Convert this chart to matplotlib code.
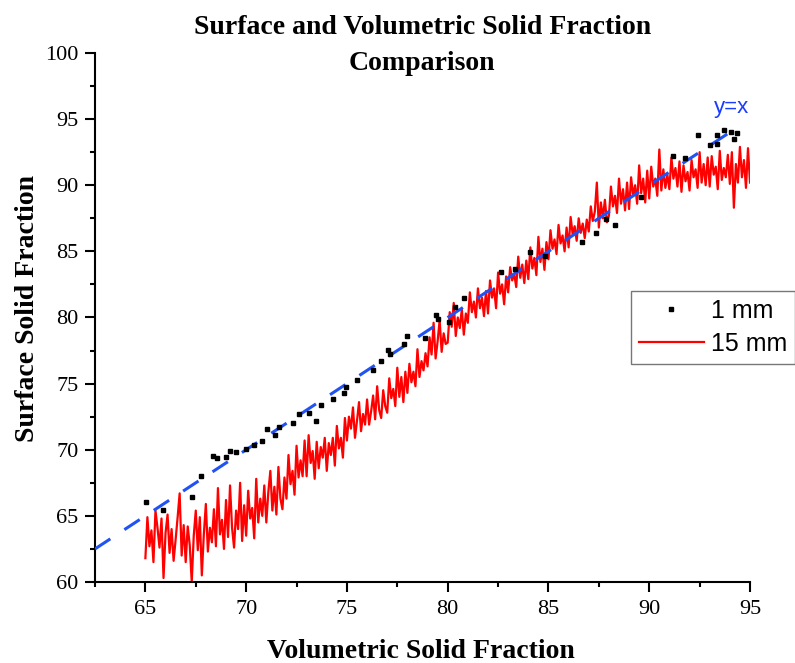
#!/usr/bin/python3
'''
Abstract:
    Surface vs. volumetric solid fraction, 1 mm and 15 mm samples.
Usage:
    plot.py
'''
import numpy as np
import matplotlib
matplotlib.use("Agg")
import matplotlib.pyplot as plt
from matplotlib.ticker import MultipleLocator

#--------------------------------------------
# data
# 1 mm samples (black squares)
vol_1mm = [65.03, 65.88, 67.29, 67.74, 68.35, 68.55, 69.01, 69.18, 69.48, 70.01,
           70.39, 70.77, 71.02, 71.45, 71.65, 72.33, 72.61, 73.12, 73.46, 73.69,
           74.29, 74.84, 74.95, 75.51, 76.28, 76.68, 77.05, 77.14, 77.85, 77.99,
           78.87, 79.41, 79.54, 80.07, 80.37, 80.81, 82.66, 83.32, 84.10, 84.85,
           86.64, 87.37, 87.87, 88.30, 89.61, 91.20, 91.77, 92.43, 93.00, 93.36,
           93.36, 93.69, 94.05, 94.35, 94.22]
surf_1mm = [66.01, 65.43, 66.46, 67.98, 69.49, 69.37, 69.45, 69.87, 69.80, 70.08,
            70.33, 70.63, 71.59, 71.14, 71.72, 72.05, 72.67, 72.75, 72.14, 73.36,
            73.81, 74.27, 74.75, 75.25, 76.01, 76.69, 77.55, 77.25, 77.98, 78.61,
            78.48, 80.20, 79.92, 79.64, 80.81, 81.46, 83.43, 83.69, 84.95, 84.64,
            85.70, 86.39, 87.45, 87.02, 89.14, 92.22, 92.05, 93.77, 93.05, 93.11,
            93.79, 94.19, 94.04, 93.94, 93.48]

# 15 mm samples (red trace), volumetric fraction 65.0 .. 95.0 in 0.1 steps
vol_15mm = np.round(np.arange(65.0, 95.05, 0.1), 1)
surf_15mm = [
    61.8, 64.9, 62.7, 63.9, 61.5, 65.4, 64.1, 62.6, 64.8, 60.3,   # 65
    63.7, 65.1, 62.2, 64.0, 61.6, 63.2, 64.9, 66.7, 62.0, 64.3,   # 66
    61.5, 64.2, 62.8, 60.0, 63.5, 65.4, 62.4, 64.9, 60.5, 63.6,   # 67
    65.9, 62.3, 64.1, 63.0, 65.5, 62.7, 67.1, 63.6, 64.7, 62.5,   # 68
    66.2, 63.4, 67.3, 64.1, 62.6, 65.4, 64.0, 67.5, 63.1, 65.8,   # 69
    63.5, 66.9, 64.8, 65.6, 63.3, 67.8, 64.5, 66.3, 65.0, 67.3,   # 70
    64.5, 66.8, 68.4, 65.4, 67.2, 65.1, 68.7, 66.3, 65.5, 67.9,   # 71
    66.3, 69.6, 67.4, 68.4, 66.6, 70.3, 67.9, 69.2, 68.0, 70.7,   # 72
    68.0, 71.1, 69.0, 69.9, 67.8, 70.6, 68.6, 70.2, 69.4, 70.9,   # 73
    68.4, 70.5, 69.6, 70.9, 68.8, 71.8, 70.1, 70.9, 69.4, 72.4,   # 74
    70.7, 72.5, 71.6, 73.2, 70.9, 72.2, 73.6, 71.4, 72.7, 71.9,   # 75
    73.8, 71.9, 72.9, 74.1, 72.3, 74.8, 73.0, 72.4, 74.5, 73.3,   # 76
    72.8, 75.4, 73.9, 74.6, 73.3, 76.2, 74.0, 75.5, 73.6, 75.9,   # 77
    74.3, 76.5, 75.1, 75.9, 74.8, 77.6, 75.5, 76.7, 76.0, 77.3,   # 78
    76.3, 78.5, 77.2, 79.6, 76.9, 78.2, 79.8, 77.4, 78.8, 78.0,   # 79
    78.1, 80.4, 79.3, 81.1, 78.6, 80.0, 79.2, 80.6, 78.7, 80.3,   # 80
    79.6, 81.9, 80.4, 81.2, 80.0, 82.2, 80.7, 81.5, 80.1, 82.0,   # 81
    80.3, 82.8, 81.5, 82.2, 80.7, 83.4, 81.8, 82.5, 81.0, 83.1,   # 82
    81.9, 83.8, 82.8, 83.3, 82.3, 84.6, 83.0, 84.0, 82.6, 84.3,   # 83
    82.9, 85.3, 83.7, 84.5, 83.2, 86.1, 84.2, 85.2, 83.6, 85.7,   # 84
    84.4, 86.6, 85.2, 85.9, 84.8, 87.0, 85.6, 86.2, 85.0, 86.8,   # 85
    85.3, 87.6, 86.3, 86.9, 85.8, 87.5, 86.4, 87.1, 86.0, 87.4,   # 86
    86.5, 88.4, 87.3, 88.0, 90.2, 86.8, 88.7, 87.5, 88.9, 87.2,   # 87
    87.7, 89.9, 88.4, 89.2, 87.9, 90.5, 88.6, 89.7, 88.1, 90.2,   # 88
    88.2, 90.6, 89.2, 90.0, 88.6, 91.5, 89.4, 90.5, 88.7, 91.1,   # 89
    89.0, 91.4, 89.9, 90.5, 89.2, 92.7, 89.6, 91.2, 89.8, 90.8,   # 90
    89.7, 92.1, 90.5, 91.3, 89.9, 91.8, 89.5, 91.5, 90.3, 91.0,   # 91
    89.6, 91.9, 90.6, 91.2, 89.8, 92.5, 90.2, 91.6, 90.0, 92.1,   # 92
    89.9, 92.2, 90.8, 91.4, 89.7, 92.6, 90.4, 91.3, 90.6, 92.3,   # 93
    90.1, 92.5, 88.3, 91.6, 90.2, 92.9, 90.6, 91.9, 89.8, 92.8,   # 94
    90.2]

# reference y = x line
ref_x = [62.5, 94.5]
ref_y = [62.5, 94.5]

labels = ["1 mm", "15 mm"]

#--------------------------------------------
# main code
if __name__ == "__main__":
    plt.rcParams['font.family'] = ['Liberation Serif', 'DejaVu Serif']
    fig = plt.figure(figsize=(7.95, 6.63), dpi=100)
    ax = fig.add_axes([0.1195, 0.1222, 0.8239, 0.7979])

    line15, = ax.plot(vol_15mm, surf_15mm, color="#ff0000", lw=1.6, zorder=2,
                      label=labels[1])
    ax.plot(ref_x, ref_y, color="#2152f4", lw=2.2, dashes=(6, 5.5), zorder=3)
    pts1, = ax.plot(vol_1mm, surf_1mm, ls="none", marker="s", ms=3.2,
                    color="black", mec="black", zorder=4, label=labels[0])

    ax.text(94.1, 95.9, "y=x", color="#1a3cff", fontsize=16,
            family=['Liberation Sans', 'DejaVu Sans'], ha="center", va="center")

    # axes look (Origin style)
    ax.set_xlim(62.5, 95)
    ax.set_ylim(60, 100)
    ax.xaxis.set_major_locator(MultipleLocator(5))
    ax.xaxis.set_minor_locator(MultipleLocator(2.5))
    ax.yaxis.set_major_locator(MultipleLocator(5))
    ax.yaxis.set_minor_locator(MultipleLocator(2.5))
    for s in ["top", "right"]:
        ax.spines[s].set_visible(False)
    for s in ["left", "bottom"]:
        ax.spines[s].set_linewidth(1.5)
    ax.tick_params(which="major", direction="out", length=7, width=1.5,
                   labelsize=16)
    ax.tick_params(axis="y", which="major", pad=5)
    ax.tick_params(axis="x", which="major", pad=6)
    ax.tick_params(which="minor", direction="out", length=3.6, width=1.5)

    # titles
    fig.text(0.531, 0.977, "Surface and Volumetric Solid Fraction\nComparison",
             ha="center", va="top", fontsize=20, fontweight="bold",
             linespacing=1.55)
    fig.text(0.035, 0.535, "Surface Solid Fraction", rotation=90,
             ha="center", va="center", fontsize=20, fontweight="bold")
    fig.text(0.530, 0.018, "Volumetric Solid Fraction",
             ha="center", va="center", fontsize=20, fontweight="bold")

    leg = fig.legend(handles=[pts1, line15], labels=labels,
                     loc="upper left", bbox_to_anchor=(0.794, 0.561),
                     prop={'family': 'Liberation Sans', 'size': 18},
                     frameon=True, fancybox=False, borderpad=0.3,
                     labelspacing=0.38, handlelength=2.6, handletextpad=0.3,
                     borderaxespad=0, numpoints=1, markerscale=0.8)
    leg.get_frame().set_edgecolor("#555555")
    leg.get_frame().set_linewidth(1.0)

    fig.savefig("out.png", dpi=100)
